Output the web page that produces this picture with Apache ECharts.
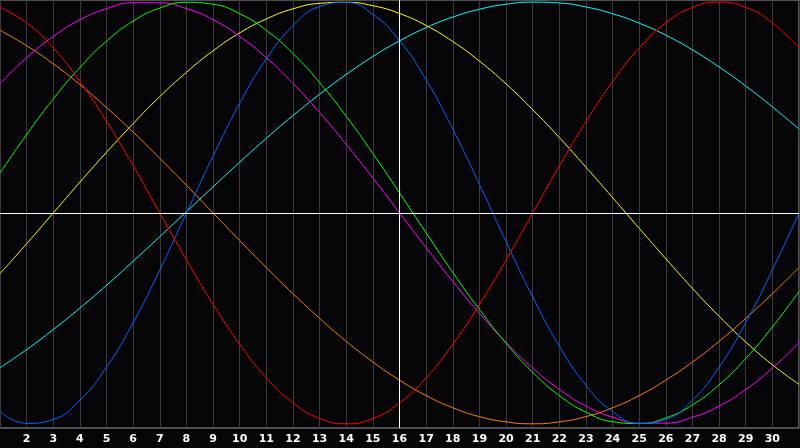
<!DOCTYPE html>
<html>
<head>
<meta charset="utf-8">
<script src="https://cdn.jsdelivr.net/npm/echarts@6/dist/echarts.min.js"></script>
<style>
html, body { margin: 0; padding: 0; background: #050508; }
#chart { width: 800px; height: 448px; }
</style>
</head>
<body>
<div id="chart"></div>
<script>
// days of the month shown on the x axis
var days = ['1','2','3','4','5','6','7','8','9','10','11','12','13','14','15','16','17','18','19','20','21','22','23','24','25','26','27','28','29','30','31'];
// tick labels (first and last day have none)
var tickLabels = ['','2','3','4','5','6','7','8','9','10','11','12','13','14','15','16','17','18','19','20','21','22','23','24','25','26','27','28','29','30',''];
var today = '16';

// curve values, one per day (-1 .. 1)
var red = [0.975,0.901,0.782,0.623,0.434,0.223,0,-0.223,-0.434,-0.623,-0.782,-0.901,-0.975,-1,-0.975,-0.901,-0.782,-0.623,-0.434,-0.223,0,0.223,0.434,0.623,0.782,0.901,0.975,1,0.975,0.901,0.782];
var blue = [-0.942,-0.998,-0.979,-0.888,-0.731,-0.520,-0.270,0,0.270,0.520,0.731,0.888,0.979,0.998,0.942,0.817,0.631,0.398,0.136,-0.136,-0.398,-0.631,-0.817,-0.942,-0.998,-0.979,-0.888,-0.731,-0.520,-0.270,0];
var green = [0.189,0.372,0.541,0.690,0.815,0.910,0.972,0.999,0.990,0.945,0.866,0.756,0.618,0.458,0.282,0.095,-0.095,-0.282,-0.458,-0.618,-0.756,-0.866,-0.945,-0.990,-0.999,-0.972,-0.910,-0.815,-0.690,-0.541,-0.372];
var magenta = [0.614,0.736,0.837,0.916,0.969,0.997,0.997,0.969,0.916,0.837,0.736,0.614,0.476,0.325,0.165,0,-0.165,-0.325,-0.476,-0.614,-0.736,-0.837,-0.916,-0.969,-0.997,-0.997,-0.969,-0.916,-0.837,-0.736,-0.614];
var yellow = [-0.288,-0.146,0,0.146,0.288,0.424,0.552,0.667,0.769,0.854,0.920,0.968,0.994,0.999,0.983,0.946,0.889,0.813,0.720,0.612,0.490,0.358,0.217,0.073,-0.073,-0.217,-0.358,-0.490,-0.612,-0.720,-0.813];
var orange = [0.866,0.793,0.707,0.609,0.500,0.383,0.259,0.131,0,-0.131,-0.259,-0.383,-0.500,-0.609,-0.707,-0.793,-0.866,-0.924,-0.966,-0.991,-1,-0.991,-0.966,-0.924,-0.866,-0.793,-0.707,-0.609,-0.500,-0.383,-0.259];
var cyan = [-0.734,-0.648,-0.553,-0.451,-0.343,-0.229,-0.112,0.006,0.124,0.241,0.354,0.462,0.563,0.657,0.742,0.816,0.879,0.929,0.966,0.990,1.000,0.996,0.977,0.945,0.900,0.843,0.773,0.692,0.602,0.503,0.398];

function curve(data, color) {
	return {
		type: 'line',
		data: data,
		smooth: 0.5,
		symbol: 'none',
		silent: true,
		lineStyle: { color: color, width: 1 }
	};
}

var series = [
	curve(cyan, '#00ffff'),
	curve(orange, '#ff8000'),
	curve(yellow, '#ffff00'),
	curve(magenta, '#ff00ff'),
	curve(green, '#00ff00'),
	curve(blue, '#0066ff'),
	curve(red, '#ff0000')
];

// white cross: zero line and today
series[0].markLine = {
	silent: true,
	symbol: 'none',
	label: { show: false },
	lineStyle: { color: '#ffffff', width: 1, type: 'solid' },
	data: [{ yAxis: 0 }, { xAxis: today }]
};

var myChart = echarts.init(document.getElementById('chart'));
myChart.setOption({
	backgroundColor: '#050508',
	animation: false,
	grid: {
		left: 0, right: 1, top: 0, bottom: 20,
		outerBoundsMode: 'none',
		containLabel: false,
		show: true,
		borderColor: '#9a9a9a',
		borderWidth: 1
	},
	xAxis: {
		type: 'category',
		data: days,
		boundaryGap: false,
		axisLine: { lineStyle: { color: '#9a9a9a' } },
		axisTick: { show: false },
		splitLine: { show: true, lineStyle: { color: '#3a3a3a', width: 1 } },
		axisLabel: {
			interval: 0,
			hideOverlap: false,
			formatter: function(v, i) { return tickLabels[i]; },
			color: '#ffffff',
			fontWeight: 'bold',
			fontSize: 11,
			fontFamily: 'DejaVu Sans',
			margin: 6
		}
	},
	yAxis: {
		type: 'value',
		min: -1.02,
		max: 1.01,
		show: false,
		splitLine: { show: false }
	},
	series: series
});
</script>
</body>
</html>
